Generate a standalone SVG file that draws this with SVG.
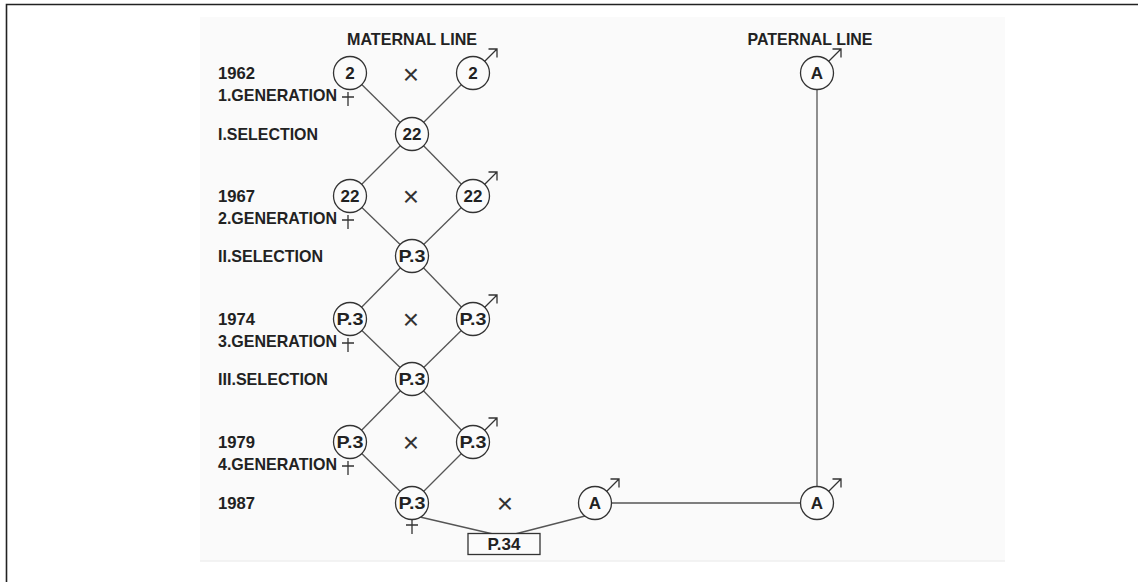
<svg xmlns="http://www.w3.org/2000/svg" width="1138" height="582" viewBox="0 0 1138 582">
  <style>
    .lbl { font-family: "Liberation Sans", Arial, sans-serif; font-weight: bold; font-size: 17px; fill: #222; }
    .head { font-family: "Liberation Sans", Arial, sans-serif; font-weight: bold; font-size: 16.5px; fill: #222; text-anchor: middle; }
    .ntxt { font-family: "Liberation Sans", Arial, sans-serif; font-weight: bold; font-size: 17px; fill: #222; text-anchor: middle; }
    .cross { font-family: "Liberation Sans", Arial, sans-serif; font-size: 28px; fill: #333; text-anchor: middle; }
    .node circle { fill: #fbfbfb; stroke: #333; stroke-width: 1.3; }
    .node rect { fill: #fbfbfb; stroke: #333; stroke-width: 1.3; }
    .conn line { stroke: #555; stroke-width: 1.3; }
    .sym { fill: none; stroke: #333; stroke-width: 1.3; }
  </style>
  <defs>
    <!-- male sign: arrow leaving the circle at upper right -->
    <path id="male" class="sym" d="M11.5,-11.5 L24,-24 M15.5,-24 H24 V-15.5"/>
    <!-- female sign: cross below the circle -->
    <path id="female" class="sym" d="M0,0 V14 M-6,5 H6"/>
  </defs>

  <!-- frame and panel -->
  <rect x="200" y="17" width="805" height="544" fill="#fafafa"/>
  <line x1="200" y1="561" x2="1005" y2="561" stroke="#efefef" stroke-width="1.5"/>
  <path d="M6.5,582 V4.5 H1138" fill="none" stroke="#222" stroke-width="1.6"/>

  <!-- headings -->
  <text class="head" x="412" y="45" textLength="130" lengthAdjust="spacingAndGlyphs">MATERNAL LINE</text>
  <text class="head" x="810" y="45" textLength="125" lengthAdjust="spacingAndGlyphs">PATERNAL LINE</text>

  <!-- row labels -->
  <g id="labels">
    <text class="lbl" x="218" y="79" textLength="37" lengthAdjust="spacingAndGlyphs">1962</text>
    <text class="lbl" x="218" y="101" textLength="119" lengthAdjust="spacingAndGlyphs">1.GENERATION</text>
    <text class="lbl" x="218" y="140" textLength="100" lengthAdjust="spacingAndGlyphs">I.SELECTION</text>
    <text class="lbl" x="218" y="202" textLength="37" lengthAdjust="spacingAndGlyphs">1967</text>
    <text class="lbl" x="218" y="224" textLength="119" lengthAdjust="spacingAndGlyphs">2.GENERATION</text>
    <text class="lbl" x="218" y="262" textLength="105" lengthAdjust="spacingAndGlyphs">II.SELECTION</text>
    <text class="lbl" x="218" y="325" textLength="37" lengthAdjust="spacingAndGlyphs">1974</text>
    <text class="lbl" x="218" y="347" textLength="119" lengthAdjust="spacingAndGlyphs">3.GENERATION</text>
    <text class="lbl" x="218" y="385" textLength="110" lengthAdjust="spacingAndGlyphs">III.SELECTION</text>
    <text class="lbl" x="218" y="448" textLength="37" lengthAdjust="spacingAndGlyphs">1979</text>
    <text class="lbl" x="218" y="470" textLength="119" lengthAdjust="spacingAndGlyphs">4.GENERATION</text>
    <text class="lbl" x="218" y="509" textLength="37" lengthAdjust="spacingAndGlyphs">1987</text>
  </g>

  <!-- cross signs -->
  <g id="crosses">
    <text class="cross" x="411" y="84">×</text>
    <text class="cross" x="411" y="206">×</text>
    <text class="cross" x="411" y="329">×</text>
    <text class="cross" x="411" y="452">×</text>
    <text class="cross" x="505" y="513">×</text>
  </g>

  <!-- connectors -->
  <g id="connectors" class="conn">
    <line x1="350" y1="73" x2="412" y2="134"/>
    <line x1="473" y1="73" x2="412" y2="134"/>
    <line x1="412" y1="134" x2="350" y2="196"/>
    <line x1="412" y1="134" x2="473" y2="196"/>
    <line x1="350" y1="196" x2="412" y2="256"/>
    <line x1="473" y1="196" x2="412" y2="256"/>
    <line x1="412" y1="256" x2="350" y2="319"/>
    <line x1="412" y1="256" x2="473" y2="319"/>
    <line x1="350" y1="319" x2="412" y2="379"/>
    <line x1="473" y1="319" x2="412" y2="379"/>
    <line x1="412" y1="379" x2="350" y2="442"/>
    <line x1="412" y1="379" x2="473" y2="442"/>
    <line x1="350" y1="442" x2="412" y2="503"/>
    <line x1="473" y1="442" x2="412" y2="503"/>
    <line x1="420" y1="517" x2="493" y2="534"/>
    <line x1="585" y1="516" x2="515" y2="534"/>
    <line x1="611.5" y1="503" x2="800.5" y2="503"/>
    <line x1="817" y1="90" x2="817" y2="486.5"/>
  </g>

  <!-- generation 1 -->
  <g id="g1-female" class="node">
    <circle cx="350" cy="73" r="16.5"/>
    <text class="ntxt" x="350" y="79">2</text>
    <use href="#female" x="348" y="92"/>
  </g>
  <g id="g1-male" class="node">
    <circle cx="473" cy="73" r="16.5"/>
    <text class="ntxt" x="473" y="79">2</text>
    <use href="#male" x="473" y="73"/>
  </g>
  <g id="sel1" class="node">
    <circle cx="412" cy="134" r="16.5"/>
    <text class="ntxt" x="412" y="140">22</text>
  </g>

  <!-- generation 2 -->
  <g id="g2-female" class="node">
    <circle cx="350" cy="196" r="16.5"/>
    <text class="ntxt" x="350" y="202">22</text>
    <use href="#female" x="348" y="215"/>
  </g>
  <g id="g2-male" class="node">
    <circle cx="473" cy="196" r="16.5"/>
    <text class="ntxt" x="473" y="202">22</text>
    <use href="#male" x="473" y="196"/>
  </g>
  <g id="sel2" class="node">
    <circle cx="412" cy="256" r="16.5"/>
    <text class="ntxt" x="412" y="262" textLength="27" lengthAdjust="spacingAndGlyphs">P.3</text>
  </g>

  <!-- generation 3 -->
  <g id="g3-female" class="node">
    <circle cx="350" cy="319" r="16.5"/>
    <text class="ntxt" x="350" y="325" textLength="27" lengthAdjust="spacingAndGlyphs">P.3</text>
    <use href="#female" x="348" y="338"/>
  </g>
  <g id="g3-male" class="node">
    <circle cx="473" cy="319" r="16.5"/>
    <text class="ntxt" x="473" y="325" textLength="27" lengthAdjust="spacingAndGlyphs">P.3</text>
    <use href="#male" x="473" y="319"/>
  </g>
  <g id="sel3" class="node">
    <circle cx="412" cy="379" r="16.5"/>
    <text class="ntxt" x="412" y="385" textLength="27" lengthAdjust="spacingAndGlyphs">P.3</text>
  </g>

  <!-- generation 4 -->
  <g id="g4-female" class="node">
    <circle cx="350" cy="442" r="16.5"/>
    <text class="ntxt" x="350" y="448" textLength="27" lengthAdjust="spacingAndGlyphs">P.3</text>
    <use href="#female" x="348" y="461"/>
  </g>
  <g id="g4-male" class="node">
    <circle cx="473" cy="442" r="16.5"/>
    <text class="ntxt" x="473" y="448" textLength="27" lengthAdjust="spacingAndGlyphs">P.3</text>
    <use href="#male" x="473" y="442"/>
  </g>

  <!-- 1987 cross -->
  <g id="p3-1987" class="node">
    <circle cx="412" cy="503" r="16.5"/>
    <text class="ntxt" x="412" y="509" textLength="27" lengthAdjust="spacingAndGlyphs">P.3</text>
    <use href="#female" x="412" y="520"/>
  </g>
  <g id="a-1987" class="node">
    <circle cx="595" cy="503" r="16.5"/>
    <text class="ntxt" x="595" y="509">A</text>
    <use href="#male" x="595" y="503"/>
  </g>

  <!-- paternal line -->
  <g id="a-paternal-top" class="node">
    <circle cx="817" cy="73" r="16.5"/>
    <text class="ntxt" x="817" y="79">A</text>
    <use href="#male" x="817" y="73"/>
  </g>
  <g id="a-paternal-bottom" class="node">
    <circle cx="817" cy="503" r="16.5"/>
    <text class="ntxt" x="817" y="509">A</text>
    <use href="#male" x="817" y="503"/>
  </g>

  <!-- offspring -->
  <g id="p34" class="node">
    <rect x="468" y="533.5" width="72" height="21"/>
    <text class="ntxt" x="504" y="550">P.34</text>
  </g>
</svg>
